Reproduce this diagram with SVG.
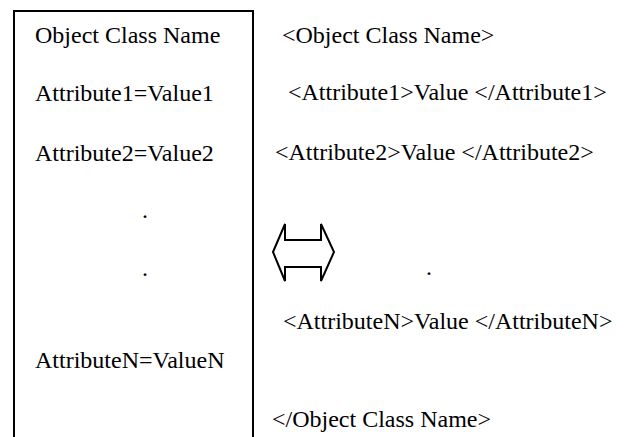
<svg xmlns="http://www.w3.org/2000/svg" width="625" height="437" viewBox="0 0 625 437">
<style>
text{font-family:"Liberation Serif","Times New Roman",serif;font-size:24px;fill:#000}
.ln{stroke:#000;stroke-width:2;fill:none}
</style>
<rect width="625" height="437" fill="#fff"/>
<g id="object-box">
<path class="ln" d="M14,440 V11 H253 V440"/>
<text x="35" y="43">Object Class Name</text>
<text x="35" y="101">Attribute1=Value1</text>
<text x="35" y="161">Attribute2=Value2</text>
<text x="142" y="218">.</text>
<text x="142" y="276">.</text>
<text x="35" y="368">AttributeN=ValueN</text>
</g>
<g id="xml-text">
<text x="282" y="43">&lt;Object Class Name&gt;</text>
<text x="288" y="100">&lt;Attribute1&gt;Value &lt;/Attribute1&gt;</text>
<text x="275" y="160">&lt;Attribute2&gt;Value &lt;/Attribute2&gt;</text>
<text x="426" y="275">.</text>
<text x="283" y="329">&lt;AttributeN&gt;Value &lt;/AttributeN&gt;</text>
<text x="272" y="427">&lt;/Object Class Name&gt;</text>
</g>
<g id="connectors">
<polygon class="ln" points="273,252 285,224 285,240 321,240 321,224 334,252 321,281 321,267 285,267 285,281"/>
</g>
</svg>
